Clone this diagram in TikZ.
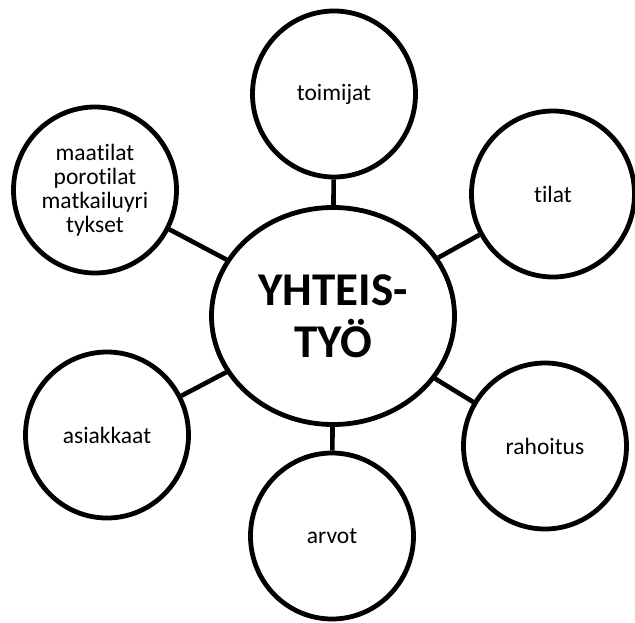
\documentclass[tikz,border=0pt]{standalone}
\usepackage{fontspec}
\setmainfont{Carlito}[Ligatures={NoCommon,NoContextual}]
\usetikzlibrary{shapes.geometric}
\begin{document}
\begin{tikzpicture}[x=1pt,y=-1pt,
  bubble/.style={ellipse,draw=black,line width=4.8pt,fill=white,inner sep=0pt,
    minimum width=163pt,minimum height=166pt,align=center,
    font=\fontsize{23.5}{24}\selectfont},
  hub/.style={ellipse,draw=black,line width=4.8pt,fill=white,inner sep=0pt,
    minimum width=243pt,minimum height=217pt,align=center,
    font=\fontsize{47}{52}\selectfont\bfseries},
  link/.style={line width=4.6pt,draw=black}]
\useasboundingbox (0,0) rectangle (635,622);
\node[hub] (c) at (333,316) {YHTEIS-\\TYÖ};
\node[bubble] (toim) at (334,94) {toimijat};
\node[bubble] (tilat) at (553,194) {tilat};
\node[bubble] (maat) at (95,190) {maatilat\\porotilat\\matkailuyri\\tykset};
\node[bubble] (asi) at (107,435) {asiakkaat};
\node[bubble] (rah) at (545,446) {rahoitus};
\node[bubble] (arv) at (332,536) {arvot};
\draw[link] (c) -- (toim);
\draw[link] (c) -- (tilat);
\draw[link] (c) -- (maat);
\draw[link] (c) -- (asi);
\draw[link] (c) -- (rah);
\draw[link] (c) -- (arv);
\end{tikzpicture}
\end{document}
